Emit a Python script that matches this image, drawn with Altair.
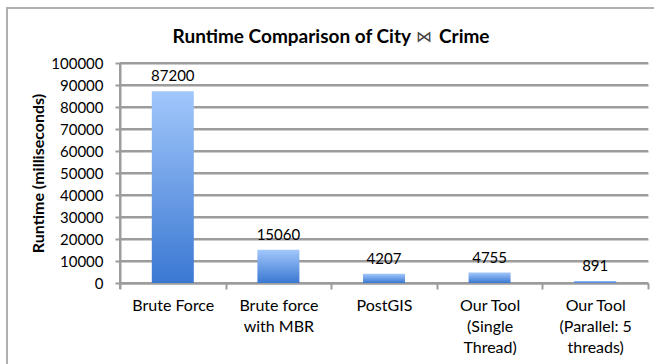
import altair as alt
import pandas as pd

categories = ["Brute Force", "Brute force|with MBR", "PostGIS",
              "Our Tool|(Single|Thread)", "Our Tool|(Parallel: 5|threads)"]
runtimes = [87200, 15060, 4207, 4755, 891]
y_ticks = [0, 10000, 20000, 30000, 40000, 50000, 60000, 70000, 80000, 90000, 100000]
title_parts = ["Runtime Comparison of City", "⋈", "Crime"]

df = pd.DataFrame({"method": categories, "runtime": runtimes})
grid_df = pd.DataFrame({"runtime": y_ticks})
one_df = pd.DataFrame({"k": [0]})

FONT = "Lato"
GRAY = "#9c9c9c"

x_enc = alt.X("method:N", sort=categories, title=None,
              scale=alt.Scale(paddingInner=0, paddingOuter=0),
              axis=alt.Axis(labelExpr="split(datum.label, '|')", labelAngle=0,
                            labelFontSize=16, labelFont=FONT, labelColor="black",
                            labelLineHeight=21, labelPadding=8,
                            tickBand="extent", tickSize=6, tickColor=GRAY, tickWidth=2,
                            domainColor=GRAY, domainWidth=2, grid=False))
y_enc = alt.Y("runtime:Q", title="Runtime (milliseconds)",
              scale=alt.Scale(domain=[0, 100000], nice=False),
              axis=alt.Axis(values=y_ticks, format="d", labelFontSize=15, labelFont=FONT,
                            labelOverlap=False, grid=True, gridColor=GRAY, gridWidth=2,
                            gridOpacity=1,
                            labelColor="black", labelPadding=12, tickSize=5, tickColor=GRAY,
                            tickWidth=2, domainColor=GRAY, domainWidth=2,
                            titleFont=FONT, titleFontSize=16, titleFontWeight="bold",
                            titleColor="black", titlePadding=4))

grad = alt.Gradient(gradient="linear",
                    stops=[alt.GradientStop(color="#a2c7fb", offset=0),
                           alt.GradientStop(color="#3a78d2", offset=1)],
                    x1=0, x2=0, y1=0, y2=1)

grid = alt.Chart(grid_df).mark_rule(color=GRAY, strokeWidth=2, opacity=1).encode(
    x=alt.value(0), x2=alt.value(528), y=y_enc)

bars = alt.Chart(df).mark_bar(color=grad, size=42).encode(x=x_enc, y=y_enc)

labels = alt.Chart(df).mark_text(dy=-10, baseline="alphabetic", font=FONT,
                                 fontSize=15, color="black").encode(
    x=x_enc, y=y_enc, text=alt.Text("runtime:Q", format="d"))

frame_left = alt.Chart(one_df).mark_rule(color="#b0b0b0", strokeWidth=2).encode(
    x=alt.value(-113), y=alt.value(-55), y2=alt.value(310))
frame_top = alt.Chart(one_df).mark_rule(color="#b0b0b0", strokeWidth=2).encode(
    x=alt.value(-114), x2=alt.value(540), y=alt.value(-55))
ydomain = alt.Chart(one_df).mark_rule(color=GRAY, strokeWidth=2).encode(
    x=alt.value(0), y=alt.value(0), y2=alt.value(226))

t1 = alt.Chart(one_df).mark_text(text=title_parts[0], font=FONT, fontSize=19, fontWeight="bold",
                                 color="black", align="right", baseline="alphabetic").encode(
    x=alt.value(291), y=alt.value(-20))
t2 = alt.Chart(one_df).mark_text(text=title_parts[1], font="DejaVu Sans", fontSize=16,
                                 fontWeight="normal", color="#444444", align="center",
                                 baseline="alphabetic").encode(
    x=alt.value(304), y=alt.value(-21))
t3 = alt.Chart(one_df).mark_text(text=title_parts[2], font=FONT, fontSize=19, fontWeight="bold",
                                 color="black", align="left", baseline="alphabetic").encode(
    x=alt.value(319), y=alt.value(-20))

chart = alt.layer(frame_left, frame_top, grid, ydomain, bars, labels, t1, t2, t3).properties(
    width=528, height=220,
    padding={"left": 120, "top": 63, "right": 6, "bottom": 81},
    autosize=alt.AutoSizeParams(type="none"),
).configure_view(stroke=None)

chart.save("out.html", embed_options={"renderer": "svg", "actions": False})
